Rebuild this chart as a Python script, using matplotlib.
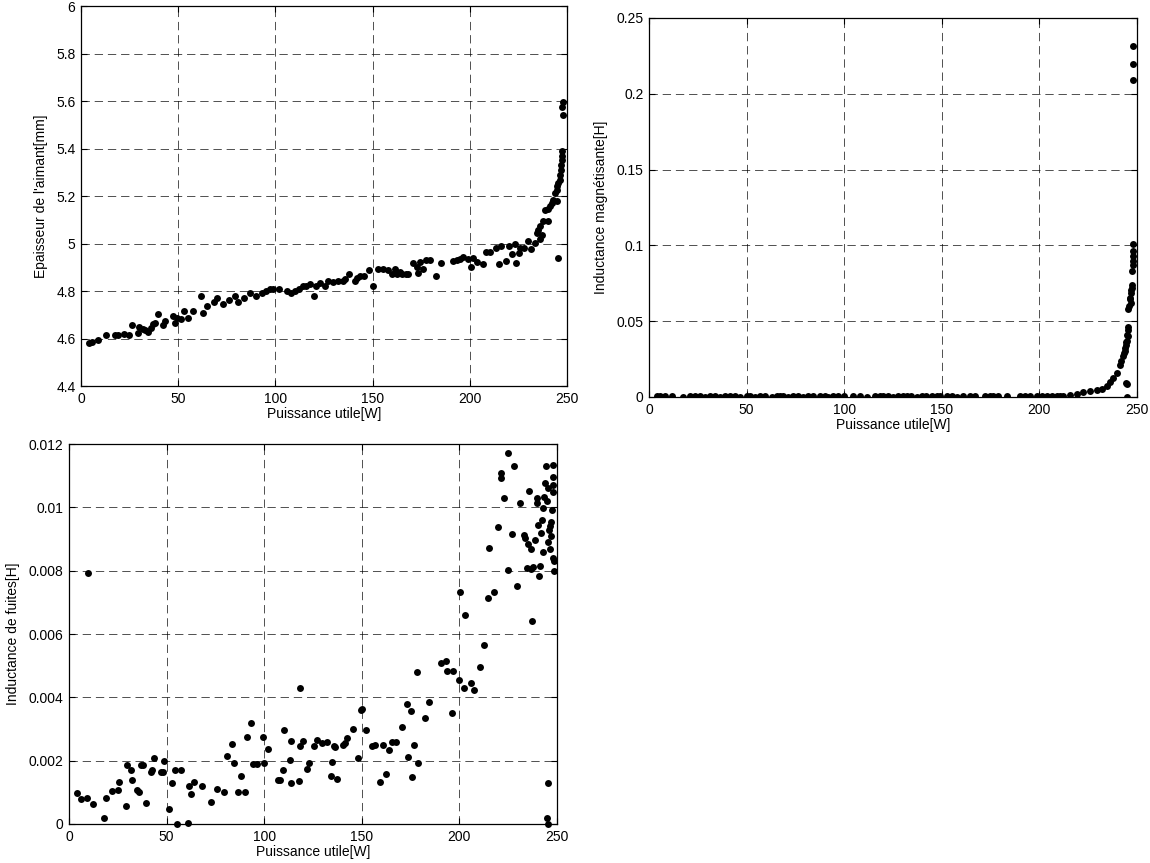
import numpy as np
import matplotlib
matplotlib.use('Agg')
import matplotlib.pyplot as plt
from matplotlib.ticker import FuncFormatter, MultipleLocator

plt.rcParams['font.family'] = ['Liberation Sans', 'DejaVu Sans']
plt.rcParams['lines.scale_dashes'] = False

# ------------------------------------------------------------
# Données
# ------------------------------------------------------------
# Epaisseur de l'aimant [mm] en fonction de la puissance utile [W]
p_epaisseur = [4.1, 5.8, 8.9, 12.7, 17.5, 18.9, 22.3, 24.9, 26.1, 29.1, 29.8, 32.1,
               32.9, 34.6, 36.0, 37.2, 38.1, 39.8, 42.3, 43.2, 47.5, 48.4, 49.2, 51.4,
               53.1, 54.9, 57.4, 61.7, 62.9, 64.6, 68.6, 70.0, 73.2, 76.1, 79.0, 80.9,
               84.0, 87.0, 90.0, 93.0, 95.0, 97.0, 99.0, 102.0, 106.0, 108.0, 110.0,
               112.0, 114.0, 116.0, 118.0, 120.0, 121.0,
               122.9, 125.5, 127.2, 129.8, 132.4, 134.9, 135.8, 138.0, 140.9, 141.8,
               143.5, 145.7, 148.3, 150.0, 152.6, 155.5, 158.1, 159.8, 161.5, 162.4,
               164.1, 164.9, 167.2, 168.4, 170.9, 172.7, 173.5, 174.4, 176.1, 177.5,
               179.5, 182.6, 185.0, 191.2, 193.2, 194.9, 196.7, 199.2, 200.4, 201.8,
               203.5, 206.6, 208.2, 210.4, 213.3, 215.2, 215.9, 218.6, 220.3, 221.5,
               223.3, 223.8, 225.5, 225.8, 227.9, 230.1, 231.3, 233.5, 236.1, 237.0,
               234.4, 235.3, 236.1, 237.5, 238.7, 240.4, 240.1, 241.3, 242.1, 243.0,
               243.8, 244.7, 245.0, 245.5, 246.4, 245.0, 245.5,
               246.6, 246.9, 247.1, 247.3, 247.5, 247.2, 247.8, 247.6, 248.0]
e_epaisseur = [4.583, 4.587, 4.594, 4.613, 4.613, 4.613, 4.618, 4.613, 4.655, 4.622,
               4.650, 4.641, 4.636, 4.627, 4.646, 4.660, 4.664, 4.702, 4.655, 4.674,
               4.695, 4.664, 4.688, 4.681, 4.716, 4.688, 4.716, 4.780, 4.706, 4.737,
               4.753, 4.770, 4.744, 4.761, 4.780, 4.753,
               4.770, 4.790, 4.780, 4.790, 4.800, 4.810, 4.810, 4.810, 4.800, 4.790,
               4.800, 4.810, 4.820, 4.820, 4.830, 4.780, 4.820,
               4.835, 4.821, 4.842, 4.838, 4.842, 4.842, 4.849, 4.870, 4.842, 4.856,
               4.863, 4.863, 4.888, 4.821, 4.894, 4.891, 4.888, 4.870, 4.894, 4.870,
               4.880, 4.870, 4.870, 4.873, 4.919, 4.902, 4.874, 4.921, 4.891, 4.930,
               4.930, 4.863, 4.919, 4.926, 4.930, 4.935, 4.942, 4.935, 4.902, 4.940,
               4.921, 4.912, 4.964, 4.964, 4.982, 4.912, 4.989, 4.926, 4.989, 4.958,
               4.996, 4.916, 4.961, 4.982, 4.982, 5.010, 4.978, 5.003, 5.017, 5.038,
               5.045, 5.059, 5.073, 5.094, 5.140, 5.146, 5.094, 5.157, 5.171, 5.185,
               5.213, 5.227, 5.241, 5.255, 5.269, 5.178, 4.940,
               5.290, 5.310, 5.330, 5.350, 5.370, 5.390, 5.540, 5.575, 5.595]

# Inductance magnétisante [H]
p_magn = [3.9, 5.6, 8.2, 11.6, 17.6, 21.0, 23.6, 26.1, 28.7, 31.3, 33.8, 36.4, 38.9,
          41.5, 44.1, 46.6, 50.0, 51.7, 54.3, 56.9, 59.4, 62.8, 65.4, 67.1, 68.8,
          71.4, 73.9, 76.5, 79.1, 81.6, 84.2, 87.6, 90.2, 91.9, 94.4, 97.0, 99.9,
          104.7, 108.1, 111.5, 115.8, 118.3, 120.0, 122.6, 125.1, 127.7, 130.3,
          132.0, 134.5, 137.1, 139.7, 142.2, 144.8, 147.4, 149.1, 152.5, 155.1,
          157.6, 161.0, 164.5, 167.0, 172.2, 174.7, 176.4, 179.0, 183.3, 190.1,
          192.6, 195.2, 198.6, 201.2, 203.8, 206.3, 208.9,
          210.6, 212.3, 215.8, 219.2, 222.6, 226.0, 229.4, 232.0, 234.5, 236.2,
          237.9, 239.6, 241.3, 242.1, 243.0, 243.5, 243.8, 244.0, 244.2, 244.5,
          244.7, 245.0, 245.2, 245.3, 245.6, 244.5, 245.0, 244.7,
          245.6, 246.0, 246.3, 246.6, 246.9, 247.1, 247.4, 247.6, 247.8, 248.0,
          248.1, 247.9, 247.3, 246.8, 247.8, 247.8, 247.8]
l_magn = [0.0006, 0.0004, 0.0008, 0.0005, 0.0003, 0.0005, 0.0004, 0.0006, 0.0003,
          0.0005, 0.0004, 0.0003, 0.0005, 0.0006, 0.0004, 0.0003, 0.0005, 0.0004,
          0.0002, 0.0005, 0.0004, 0.0003, 0.0006, 0.0004, 0.0005, 0.0003, 0.0004,
          0.0005, 0.0003, 0.0004, 0.0005, 0.0006, 0.0004, 0.0003, 0.0005, 0.0004,
          0.0006, 0.0004, 0.0005, 0.0003, 0.0006, 0.0004, 0.0005, 0.0004, 0.0003,
          0.0005, 0.0004, 0.0006, 0.0005, 0.0003, 0.0004, 0.0005, 0.0007, 0.0004,
          0.0008, 0.0004, 0.0005, 0.0003, 0.0004, 0.0005, 0.0004, 0.0006, 0.0005,
          0.0004, 0.0006, 0.0005, 0.0004, 0.0006, 0.0005, 0.0007, 0.0006, 0.0005,
          0.0006, 0.0005,
          0.0008, 0.0007, 0.0012, 0.0020, 0.0030, 0.0038, 0.0045, 0.0055, 0.0075,
          0.0098, 0.0125, 0.0160, 0.0210, 0.0240, 0.0270, 0.0290, 0.0300, 0.0320,
          0.0340, 0.0360, 0.0370, 0.0410, 0.0400, 0.0440, 0.0460, 0.0095, 0.0085,
          0.0000,
          0.0577, 0.0599, 0.0643, 0.0654, 0.0686, 0.0708, 0.0741, 0.0829, 0.0873,
          0.0928, 0.0961, 0.0900, 0.0720, 0.0620, 0.1011, 0.2094, 0.2193]
p_magn_top = [247.8]
l_magn_top = [0.2314]

# Inductance de fuites [H]
p_fuites = [9.6, 3.9, 6.1, 9.0, 12.5, 17.9, 19.0, 22.2, 24.9, 25.8, 29.2, 29.9, 31.6,
            32.1, 35.0, 36.0, 36.9, 38.1, 39.4, 42.0, 42.7, 43.5, 46.9, 48.3, 48.7,
            51.2, 52.6, 54.3, 55.2, 57.4, 60.8, 61.5, 62.5, 64.2, 68.3, 72.7, 75.6,
            79.2, 80.9, 83.3, 84.5, 86.4, 87.9, 90.2, 91.2, 93.1, 94.1, 96.1, 99.2,
            99.9, 101.8, 106.9, 108.1, 109.8, 110.3, 113.2, 113.7, 113.7, 117.8,
            118.3, 118.3, 120.0, 121.8, 123.1, 125.7, 127.2, 129.4, 132.0, 134.1,
            134.9, 135.9, 136.3, 137.5, 140.6, 141.4, 142.6, 145.3, 147.9, 149.4,
            149.9, 152.2, 155.1, 156.8, 159.3, 161.0, 162.2, 164.0, 165.3, 167.5,
            170.8, 173.0, 173.9, 175.2, 175.6, 176.8, 178.1, 178.6, 182.4, 184.6,
            190.4, 193.2, 193.8, 196.6, 196.1, 200.0, 200.3, 202.4, 202.9, 205.8,
            207.5, 210.6, 212.8, 214.5, 215.2, 218.0, 219.6, 221.3, 221.3, 223.0,
            224.7, 224.7, 227.1, 228.2, 229.4, 231.1, 233.3, 233.6, 234.5, 235.3,
            235.8, 236.5, 236.5, 237.0, 237.9, 238.7, 239.6, 240.0, 240.5, 240.8,
            241.3, 241.7, 242.2, 242.7, 243.0, 243.4, 243.9, 244.4, 244.7, 245.2,
            245.6, 245.6, 246.1, 246.4, 246.8, 247.3, 247.8, 247.8, 248.1, 248.1,
            248.5, 248.1, 248.6, 246.4, 244.7, 245.6, 246.8]
l_fuites = [0.00794, 0.00099, 0.00078, 0.00083, 0.00062, 0.00020, 0.00083, 0.00104,
            0.00108, 0.00132, 0.00058, 0.00186, 0.00170, 0.00139, 0.00108, 0.00100,
            0.00186, 0.00186, 0.00065, 0.00165, 0.00170, 0.00209, 0.00163, 0.00163,
            0.00199, 0.00047, 0.00128, 0.00170, 0.00000, 0.00170, 0.00003, 0.00121,
            0.00094, 0.00132, 0.00121, 0.00069, 0.00110, 0.00100, 0.00216, 0.00252,
            0.00192, 0.00100, 0.00153, 0.00100, 0.00276, 0.00318, 0.00189, 0.00189,
            0.00276, 0.00192, 0.00237, 0.00140, 0.00140, 0.00170, 0.00297, 0.00202,
            0.00262, 0.00128, 0.00135, 0.00431, 0.00247, 0.00262, 0.00174, 0.00192,
            0.00247, 0.00265, 0.00255, 0.00258, 0.00153, 0.00195, 0.00247, 0.00244,
            0.00142, 0.00249, 0.00255, 0.00273, 0.00300, 0.00207, 0.00360, 0.00363,
            0.00297, 0.00247, 0.00251, 0.00132, 0.00251, 0.00157, 0.00234, 0.00258,
            0.00258, 0.00307, 0.00378, 0.00213, 0.00357, 0.00149, 0.00251, 0.00480,
            0.00192, 0.00336, 0.00384, 0.00507, 0.00515, 0.00483, 0.00483, 0.00350,
            0.00455, 0.00734, 0.00431, 0.00660, 0.00444, 0.00423, 0.00497, 0.00565,
            0.00713, 0.00871, 0.00734, 0.00937, 0.01094, 0.01108, 0.01030, 0.00802,
            0.01171, 0.00916, 0.01132, 0.00752, 0.01015, 0.00913, 0.00904, 0.00810,
            0.00884, 0.01053, 0.00867, 0.00804, 0.00642, 0.00813, 0.00897, 0.01030,
            0.01015, 0.00944, 0.00783, 0.00815, 0.00920, 0.00960, 0.00997, 0.00860,
            0.01034, 0.01076, 0.01129, 0.00020, 0.00000, 0.00129, 0.01060, 0.00930,
            0.00870, 0.00955, 0.00992, 0.01050, 0.01134, 0.01095, 0.00839, 0.00800,
            0.01071, 0.00830, 0.00940, 0.01020, 0.00890, 0.00910]


def style_axes(ax):
    """Aspect façon MATLAB : cadre, grille en tirets, graduations intérieures"""
    ax.grid(True, color='k', linestyle=(0, (6, 3.5)), linewidth=0.6, alpha=0.8)
    ax.set_axisbelow(True)
    ax.tick_params(direction='in', top=True, right=True, length=4,
                   width=0.8, labelsize=10, pad=4, colors='k')
    for s in ax.spines.values():
        s.set_linewidth(0.9)
        s.set_color('k')
    ax.yaxis.set_major_formatter(FuncFormatter(lambda v, p: '%g' % round(v, 6)))
    ax.xaxis.set_major_formatter(FuncFormatter(lambda v, p: '%g' % v))


fig = plt.figure(figsize=(11.5, 8.63), dpi=100)

# --- Epaisseur de l'aimant ---
ax1 = fig.add_axes([0.0704, 0.5527, 0.4226, 0.4403])
ax1.plot(p_epaisseur, e_epaisseur, 'o', color='k', markersize=5, markeredgewidth=0)
ax1.set_xlim(0, 250)
ax1.set_ylim(4.4, 6)
ax1.xaxis.set_major_locator(MultipleLocator(50))
ax1.yaxis.set_major_locator(MultipleLocator(0.2))
style_axes(ax1)
ax1.set_xlabel('Puissance utile[W]', fontsize=10, labelpad=1)
ax1.set_ylabel("Epaisseur de l'aimant[mm]", fontsize=10, labelpad=6)

# --- Inductance magnétisante ---
ax2 = fig.add_axes([0.5643, 0.54, 0.4243, 0.4392])
ax2.plot(p_magn, l_magn, 'o', color='k', markersize=5, markeredgewidth=0)
ax2.plot(p_magn_top, l_magn_top, 'o', color='k', markersize=5, markeredgewidth=0)
ax2.set_xlim(0, 250)
ax2.set_ylim(0, 0.25)
ax2.xaxis.set_major_locator(MultipleLocator(50))
ax2.yaxis.set_major_locator(MultipleLocator(0.05))
style_axes(ax2)
ax2.set_xlabel('Puissance utile[W]', fontsize=10, labelpad=1)
ax2.set_ylabel('Inductance magnétisante[H]', fontsize=10, labelpad=6)

# --- Inductance de fuites ---
ax3 = fig.add_axes([0.06, 0.0452, 0.4243, 0.4403])
ax3.plot(p_fuites, l_fuites, 'o', color='k', markersize=5, markeredgewidth=0,
         clip_on=False)
ax3.set_xlim(0, 250)
ax3.set_ylim(0, 0.012)
ax3.xaxis.set_major_locator(MultipleLocator(50))
ax3.yaxis.set_major_locator(MultipleLocator(0.002))
style_axes(ax3)
ax3.set_xlabel('Puissance utile[W]', fontsize=10, labelpad=1)
ax3.set_ylabel('Inductance de fuites[H]', fontsize=10, labelpad=6)

fig.savefig('out.png', dpi=100)
